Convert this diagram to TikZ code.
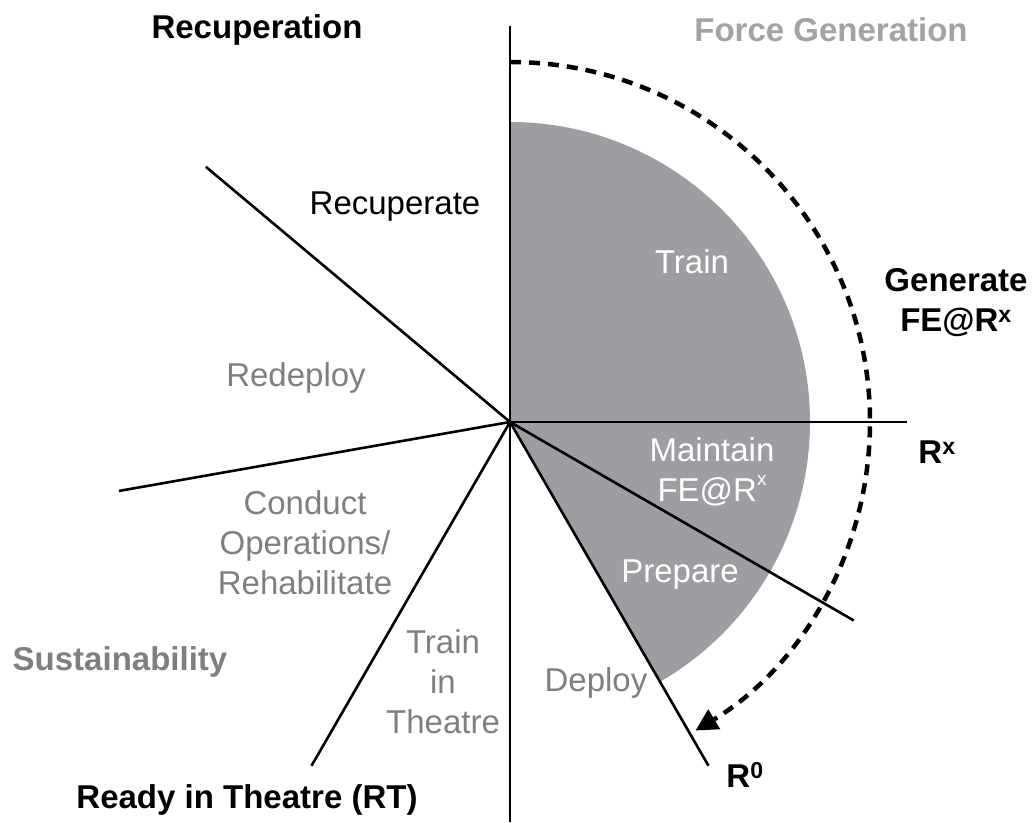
\documentclass[tikz,border=0pt]{standalone}
\usepackage{fontspec}
\setmainfont{Liberation Sans}
\usetikzlibrary{arrows.meta,calc}
\definecolor{sectorgrey}{HTML}{9D9EA2}
\definecolor{labelgrey}{HTML}{7F7F7F}
\definecolor{lightgrey}{HTML}{A2A3A7}
\tikzset{
  lbl/.style={inner sep=0pt, align=center, font=\fontsize{33}{40}\selectfont},
  ttl/.style={lbl, font=\fontsize{33}{40}\selectfont\bfseries},
  ray/.style={line width=2.6pt, black},
  cyc/.style={line width=4.5pt, dash pattern=on 11pt off 8pt, -{Triangle[length=22pt,width=22pt]}},
}
\begin{document}
\begin{tikzpicture}[x=1pt,y=1pt]
\useasboundingbox (0,0) rectangle (1032,822);
\coordinate (c) at (510,400);
% sector
\fill[sectorgrey] (c) -- ++(90:300) arc[start angle=90,end angle=-60,radius=300] -- cycle;
% rays
\coordinate (r90) at ($(c)+(90:396)$);
\coordinate (r0) at ($(c)+(0:397)$);
\coordinate (rm30) at ($(c)+(-30:397)$);
\coordinate (rm60) at ($(c)+(-60:397)$);
\coordinate (rm90) at (510,0);
\coordinate (r140) at ($(c)+(140:397)$);
\coordinate (r190) at ($(c)+(190:397)$);
\coordinate (r240) at ($(c)+(240:397)$);
\foreach \e in {r90,r0,rm30,rm60,rm90,r140,r190,r240}
  \draw[ray] (c) -- (\e);
% dashed cycle arrow
\coordinate (ds) at ($(c)+(90:360)$);
\draw[cyc] (ds) arc[start angle=90,end angle=-59,radius=360];
% titles
\node[ttl] (recup) at (257,792) {Recuperation};
\node[ttl, text=lightgrey] (fg) at (831,792) {Force Generation};
\node[ttl] (gen) at (956,519) {Generate\\FE@R\textsuperscript{x}};
\node[ttl] (rx) at (937,370) {R\textsuperscript{x}};
\node[ttl] (rzero) at (745,47) {R\textsuperscript{0}};
\node[ttl, text=labelgrey] (sus) at (120,160) {Sustainability};
\node[ttl] (rit) at (247,22) {Ready in Theatre (RT)};
% phase labels
\node[lbl] (recuperate) at (395,615) {Recuperate};
\node[lbl, text=white] (train) at (692,560) {Train};
\node[lbl, text=white] (maint) at (712,350) {Maintain\\FE@R\raisebox{16pt}{\fontsize{19}{19}\selectfont x}};
\node[lbl, text=white] (prep) at (680,247) {Prepare};
\node[lbl, text=labelgrey] (redep) at (296,444) {Redeploy};
\node[lbl, text=labelgrey] (cond) at (305,279) {Conduct\\Operations/\\Rehabilitate};
\node[lbl, text=labelgrey] (tit) at (443,140) {Train\\in\\Theatre};
\node[lbl, text=labelgrey] (dep) at (596,139) {Deploy};
\end{tikzpicture}
\end{document}
